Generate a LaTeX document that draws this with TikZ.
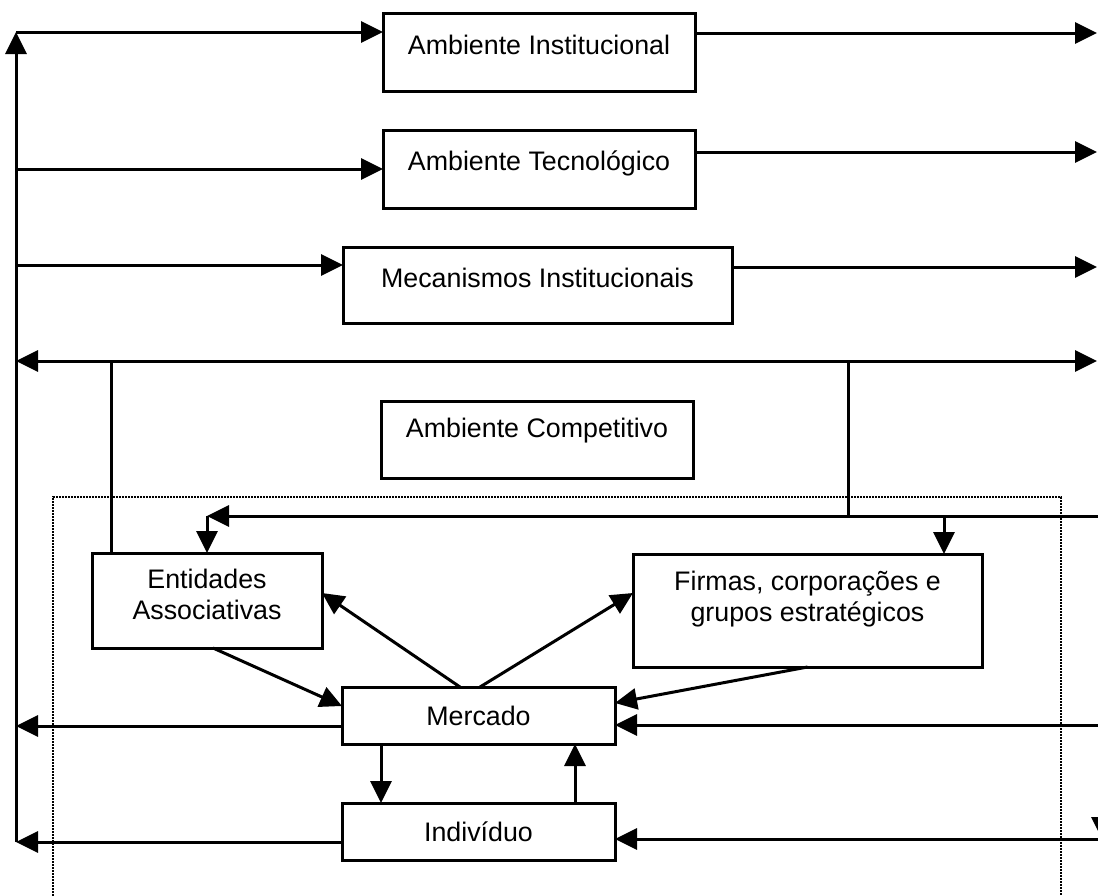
\documentclass[tikz,border=0pt]{standalone}
\usepackage{fontspec}
\setmainfont{Liberation Sans}
\usetikzlibrary{arrows.meta}
\begin{document}
\begin{tikzpicture}[x=1pt,y=-1pt,
  fnt/.style={font=\fontsize{26.8pt}{31pt}\selectfont},
  box/.style={draw, line width=3pt, inner sep=0pt, outer sep=0pt, fnt},
  lbl/.style={inner sep=0pt, fnt, align=center},
  conn/.style={line width=3pt},
  tip/.tip={Triangle[length=22pt,width=21pt]},
  arr/.style={conn, -tip},
  dotline/.style={line width=1.8pt, dash pattern=on 1.6pt off 1.4pt}]
\useasboundingbox (0,0) rectangle (1098,895);
\clip (0,0) rectangle (1098,895);
\fill[white] (0,0) rectangle (1098,895);

% dotted frame
\draw[dotline] (53,905) -- (53,497) -- (1061,497) -- (1061,905);

% boxes
\node[box, minimum width=312pt, minimum height=78pt] (inst) at (539,52) {};
\node[lbl, anchor=base] (instt) at (539,54) {Ambiente Institucional};
\node[box, minimum width=312pt, minimum height=78pt] (tech) at (539,169) {};
\node[lbl, anchor=base] (techt) at (539,170) {Ambiente Tecnológico};
\node[box, minimum width=389pt, minimum height=76pt] (mech) at (537.5,285) {};
\node[lbl, anchor=base] (mecht) at (537.5,287) {Mecanismos Institucionais};
\node[box, minimum width=312pt, minimum height=77pt] (comp) at (537,439.5) {};
\node[lbl, anchor=base] (compt) at (537,437) {Ambiente Competitivo};
\node[box, minimum width=230pt, minimum height=95pt] (ent) at (207,600.5) {};
\node[lbl] (entt) at (207,594) {Entidades\\Associativas};
\node[box, minimum width=349pt, minimum height=113pt] (firm) at (807.5,610.5) {};
\node[lbl] (firmt) at (807.5,599) {Firmas, corporações e\\grupos estratégicos};
\node[box, minimum width=273pt, minimum height=57pt] (merc) at (478.5,715.5) {Mercado};
\node[box, minimum width=273pt, minimum height=57pt] (ind) at (478.5,831.5) {Indivíduo};

% coordinates of free ends
\coordinate (lt) at (16,32);
\coordinate (lb) at (16,842);
\coordinate (l2) at (16,169);
\coordinate (l3) at (16,265);
\coordinate (l4) at (16,361);
\coordinate (l7) at (16,726);
\coordinate (r1) at (1097,33);
\coordinate (r2) at (1097,152);
\coordinate (r3) at (1097,267);
\coordinate (r4) at (1097,361);
\coordinate (r5) at (1100,516);
\coordinate (r7) at (1100,725);
\coordinate (r8) at (1100,839);
\coordinate (r9a) at (1102,790);
\coordinate (r9) at (1102,839);
\coordinate (j1) at (111,361);
\coordinate (j2) at (848,361);
\coordinate (j3) at (848,516);
\coordinate (c5) at (207,516);
\coordinate (c6) at (944,516);

% left bus
\draw[arr] (lb) -- (lt);
\draw[arr] (lt) -- (lt -| inst.west);
\draw[arr] (l2) -- (l2 -| tech.west);
\draw[arr] (l3) -- (l3 -| mech.west);
\draw[conn, tip-tip] (l4) -- (r4);

% right outputs
\draw[arr] (inst.east |- r1) -- (r1);
\draw[arr] (tech.east |- r2) -- (r2);
\draw[arr] (mech.east |- r3) -- (r3);

% competitive environment links
\draw[conn] (j1) -- (j1 |- ent.north);
\draw[conn] (j2) -- (j3);
\draw[arr] (r5) -- (c5);
\draw[arr] (c5) -- (c5 |- ent.north);
\draw[arr] (c6) -- (c6 |- firm.north);

% market links
\draw[arr] ([xshift=6pt]ent.south) -- ([yshift=9.5pt]merc.west);
\draw[arr] ([xshift=-18.5pt]merc.north) -- ([yshift=7.5pt]ent.east);
\draw[arr] ([xshift=1.5pt]merc.north) -- ([yshift=17.5pt]firm.west);
\draw[arr] (firm.south) -- ([yshift=12.5pt]merc.east);
\draw[arr] (r7) -- (r7 -| merc.east);
\draw[arr] (r8) -- (r8 -| ind.east);
\draw[arr] (l7 -| merc.west) -- (l7);
\draw[arr] (lb -| ind.west) -- (lb);
\draw[arr] ([xshift=-97.5pt]merc.south) -- ([xshift=-97.5pt]ind.north);
\draw[arr] ([xshift=96.5pt]ind.north) -- ([xshift=96.5pt]merc.south);
\draw[arr] (r9a) -- (r9);
\end{tikzpicture}
\end{document}
